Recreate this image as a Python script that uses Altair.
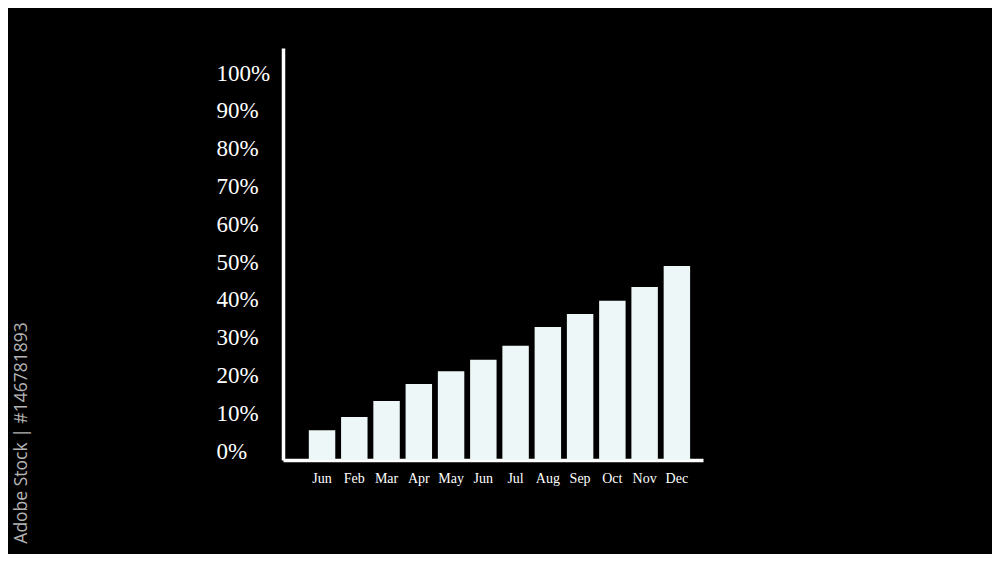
import altair as alt
import pandas as pd
import json

months = ["Jun", "Feb", "Mar", "Apr", "May", "Jun", "Jul", "Aug", "Sep", "Oct", "Nov", "Dec"]
values = [7.9, 11.4, 15.6, 20.1, 23.5, 26.5, 30.2, 35.2, 38.6, 42.1, 45.8, 51.3]
y_ticks = [0, 10, 20, 30, 40, 50, 60, 70, 80, 90, 100]

df = pd.DataFrame({"idx": list(range(len(months))), "month": months, "value": values})

label_expr = json.dumps(months) + "[datum.value]"

bars = alt.Chart(df).mark_bar(color="#eef7f7").encode(
    x=alt.X(
        "idx:O",
        scale=alt.Scale(paddingInner=0.18, paddingOuter=0.6, align=0.667),
        axis=alt.Axis(
            title=None, labelExpr=label_expr, labelAngle=0, labelFontSize=14,
            labelFont="Liberation Serif", labelColor="#ffffff", labelPadding=11,
            ticks=False, tickSize=0, domainColor="#ffffff", domainWidth=3.5, grid=False,
        ),
    ),
    y=alt.Y(
        "value:Q",
        scale=alt.Scale(domain=[0, 109], nice=False, zero=True),
        axis=alt.Axis(
            title=None, values=y_ticks, labelExpr="datum.value + '%'",
            labelFontSize=23, labelFont="Liberation Serif", labelColor="#ffffff",
            labelAlign="left", labelPadding=67, labelOffset=-9, ticks=False, tickSize=0,
            domainColor="#ffffff", domainWidth=3.5, grid=False, labelOverlap=False,
            labelFlush=False,
        ),
    ),
)

stamp = alt.Chart(pd.DataFrame({"t": ["Adobe Stock | #146781893"]})).mark_text(
    angle=270, fontSize=17.5, font="Open Sans", color="#b4b4b4", align="center", baseline="middle"
).encode(text="t:N", x=alt.value(-261), y=alt.value(385))

chart = alt.layer(bars, stamp).properties(
    width=420, height=412,
    autosize=alt.AutoSizeParams(type="none"),
    padding={"left": 275, "top": 40, "right": 289, "bottom": 94},
    background="#000000",
).configure_view(stroke=None)

chart.save("out.html", embed_options={"renderer": "svg", "actions": False})
